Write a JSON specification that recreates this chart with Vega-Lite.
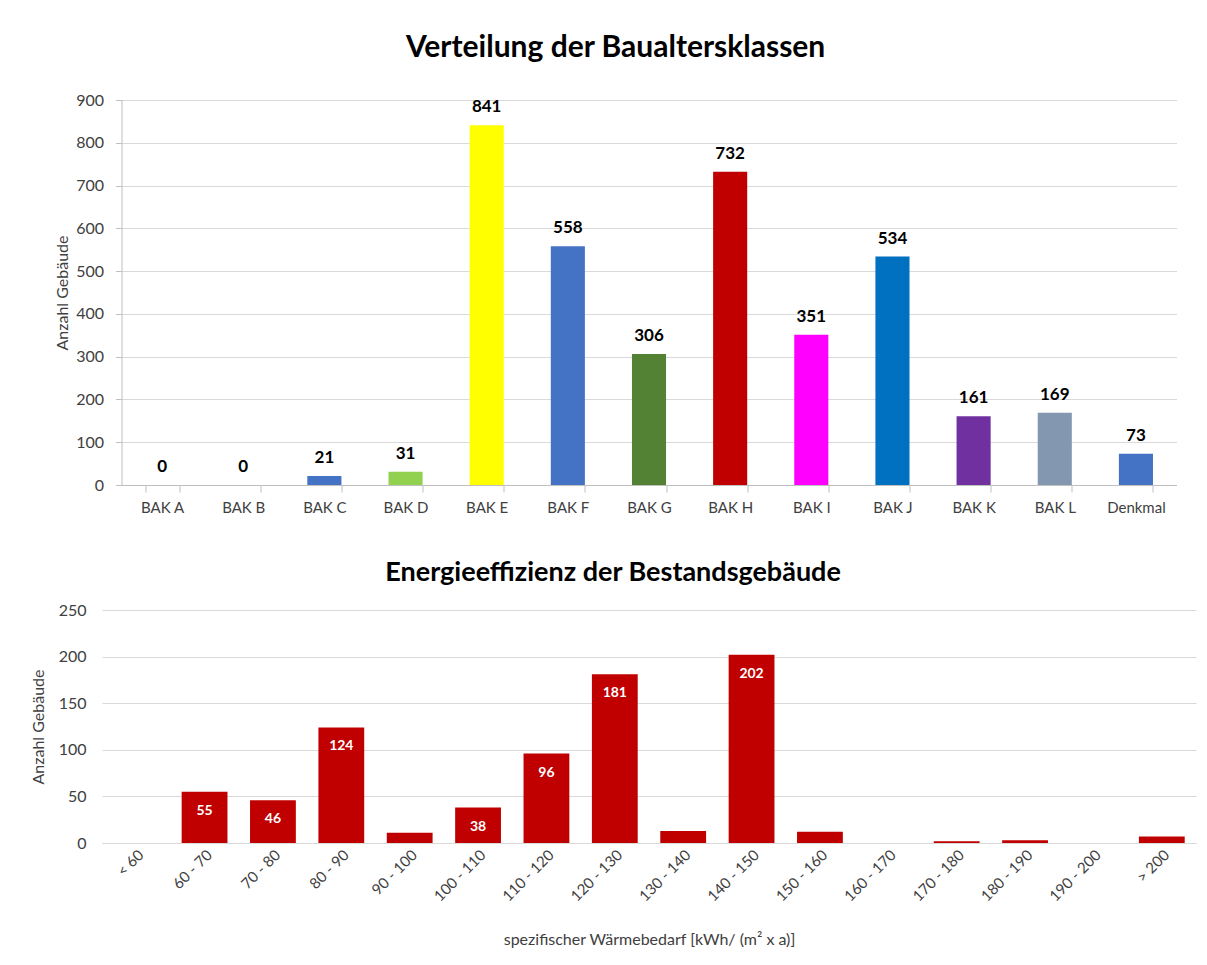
{
  "$schema": "https://vega.github.io/schema/vega-lite/v6.json",
  "background": "white",
  "padding": {"left": 30, "top": 33, "right": 5, "bottom": 5},
  "center": true,
  "spacing": 44,
  "config": {
    "view": {"stroke": null},
    "font": "Lato",
    "axis": {
      "labelFont": "Lato", "titleFont": "Lato",
      "labelColor": "#404040", "titleColor": "#404040",
      "labelFontSize": 15, "titleFontSize": 16, "titleFontWeight": "normal",
      "gridColor": "#d9d9d9", "domainColor": "#bfbfbf", "tickColor": "#bfbfbf"
    },
    "title": {"font": "Lato", "fontSize": 30, "fontWeight": "bold", "color": "#000000", "frame": "bounds"}
  },
  "vconcat": [
    {
      "title": {"text": "Verteilung der Baualtersklassen", "offset": 29},
      "width": 1055,
      "height": 385,
      "data": {"values": [
        {"klasse": "BAK A", "anzahl": 0},
        {"klasse": "BAK B", "anzahl": 0},
        {"klasse": "BAK C", "anzahl": 21},
        {"klasse": "BAK D", "anzahl": 31},
        {"klasse": "BAK E", "anzahl": 841},
        {"klasse": "BAK F", "anzahl": 558},
        {"klasse": "BAK G", "anzahl": 306},
        {"klasse": "BAK H", "anzahl": 732},
        {"klasse": "BAK I", "anzahl": 351},
        {"klasse": "BAK J", "anzahl": 534},
        {"klasse": "BAK K", "anzahl": 161},
        {"klasse": "BAK L", "anzahl": 169},
        {"klasse": "Denkmal", "anzahl": 73}
      ]},
      "encoding": {
        "x": {
          "field": "klasse", "type": "nominal", "sort": null,
          "scale": {"paddingInner": 0.58, "paddingOuter": 0.29},
          "axis": {"title": null, "labelAngle": 0, "tickBand": "extent", "tickSize": 7, "labelPadding": 8, "grid": false}
        },
        "y": {
          "field": "anzahl", "type": "quantitative",
          "scale": {"domain": [0, 900]},
          "axis": {"title": "Anzahl Gebäude", "values": [0, 100, 200, 300, 400, 500, 600, 700, 800, 900], "labelFontSize": 16, "tickSize": 6, "labelPadding": 12, "titlePadding": 5, "grid": true}
        }
      },
      "layer": [
        {
          "mark": {"type": "bar"},
          "encoding": {
            "color": {
              "field": "klasse", "type": "nominal", "legend": null,
              "scale": {
                "domain": ["BAK A", "BAK B", "BAK C", "BAK D", "BAK E", "BAK F", "BAK G", "BAK H", "BAK I", "BAK J", "BAK K", "BAK L", "Denkmal"],
                "range": ["#4472C4", "#4472C4", "#4472C4", "#92D050", "#FFFF00", "#4472C4", "#548235", "#C00000", "#FF00FF", "#0070C0", "#7030A0", "#8497B0", "#4472C4"]
              }
            }
          }
        },
        {
          "mark": {"type": "text", "dy": -18, "fontWeight": "bold", "fontSize": 17, "color": "#000000", "font": "Lato"},
          "encoding": {"text": {"field": "anzahl", "type": "quantitative"}}
        }
      ]
    },
    {
      "title": {"text": "Energieeffizienz der Bestandsgebäude", "offset": 15, "fontSize": 27},
      "width": 1094,
      "height": 233,
      "data": {"values": [
        {"bereich": "< 60", "anzahl": 0},
        {"bereich": "60 - 70", "anzahl": 55},
        {"bereich": "70 - 80", "anzahl": 46},
        {"bereich": "80 - 90", "anzahl": 124},
        {"bereich": "90 - 100", "anzahl": 11},
        {"bereich": "100 - 110", "anzahl": 38},
        {"bereich": "110 - 120", "anzahl": 96},
        {"bereich": "120 - 130", "anzahl": 181},
        {"bereich": "130 - 140", "anzahl": 13},
        {"bereich": "140 - 150", "anzahl": 202},
        {"bereich": "150 - 160", "anzahl": 12},
        {"bereich": "160 - 170", "anzahl": 0},
        {"bereich": "170 - 180", "anzahl": 2},
        {"bereich": "180 - 190", "anzahl": 3},
        {"bereich": "190 - 200", "anzahl": 0},
        {"bereich": "> 200", "anzahl": 7}
      ]},
      "encoding": {
        "x": {
          "field": "bereich", "type": "nominal", "sort": null,
          "scale": {"paddingInner": 0.33, "paddingOuter": 0.165},
          "axis": {"title": "spezifischer Wärmebedarf [kWh/ (m² x a)]", "labelAngle": -45, "ticks": false, "labelPadding": 4, "titlePadding": 28, "domainColor": "#d9d9d9", "grid": false}
        },
        "y": {
          "field": "anzahl", "type": "quantitative",
          "scale": {"domain": [0, 250]},
          "axis": {"title": "Anzahl Gebäude", "values": [0, 50, 100, 150, 200, 250], "labelFontSize": 16, "ticks": false, "domain": false, "labelPadding": 16, "titlePadding": 12, "grid": true}
        }
      },
      "layer": [
        {"mark": {"type": "bar", "color": "#C00000"}},
        {
          "transform": [{"filter": "datum.anzahl >= 30"}],
          "mark": {"type": "text", "dy": 19, "fontWeight": "bold", "fontSize": 14, "color": "#FFFFFF", "font": "Lato"},
          "encoding": {"text": {"field": "anzahl", "type": "quantitative"}}
        }
      ]
    }
  ]
}
